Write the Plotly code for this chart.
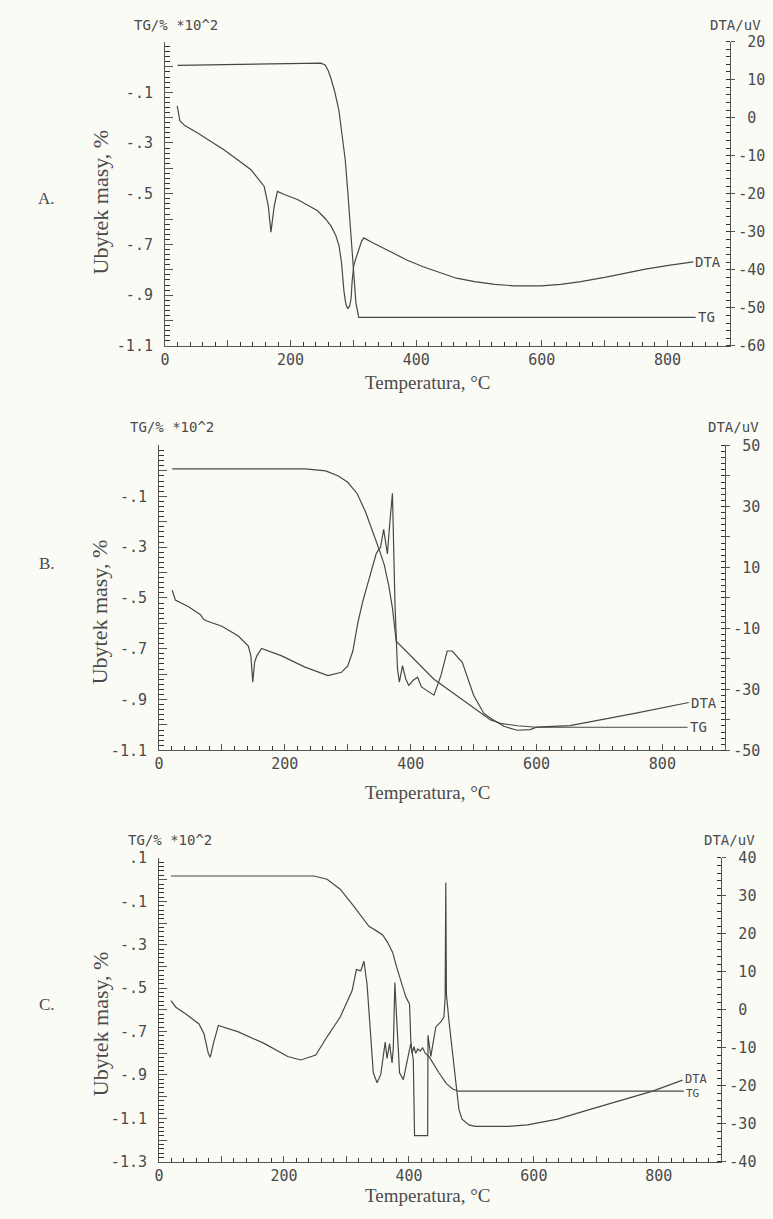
import plotly.graph_objects as go

W, H = 773, 1219

# ---------------- data: panel A ----------------
a_tg_t = [20, 100, 200, 248, 255, 260, 264, 270, 277, 282, 287, 291, 295, 298, 301, 304, 308.5, 400, 600, 845]
a_tg = [0.006, 0.010, 0.014, 0.015, 0.008, -0.015, -0.044, -0.095, -0.172, -0.26, -0.366, -0.49, -0.626,
        -0.74, -0.859, -0.93, -0.987, -0.987, -0.987, -0.987]
a_dta_t = [19.5, 23.7, 31.6, 52.7, 95, 137, 158, 164.5, 168.7, 174, 179, 190, 211, 243, 255, 264, 272, 277,
           281, 285, 288, 291, 294, 296.4, 298, 300.6, 303, 306, 310, 313, 316.5, 330, 358.5, 385, 411, 440,
           464, 493, 525, 556, 599, 630, 662, 700, 730, 765, 799, 841]
a_dta = [3.1, -0.8, -2.1, -4.1, -8.6, -13.7, -18.1, -23.2, -30.1, -23.2, -19.4, -20.2, -21.5, -24.5, -26.5,
         -28.4, -31, -33.6, -38, -45.7, -49, -50.2, -49.5, -47.4, -43, -38.8, -37.5, -36.2, -34, -32.5, -31.6,
         -32.8, -35.3, -37.4, -39.2, -40.9, -42.2, -43.1, -43.8, -44.2, -44.2, -43.8, -43.1, -42.0, -40.9,
         -39.8, -38.9, -37.9]

# ---------------- data: panel B ----------------
b_tg_t = [21, 120, 232, 265, 285, 300, 315, 328, 340, 350, 358, 365, 371, 377, 437, 469, 490, 505, 527, 545,
          570, 600, 840]
b_tg = [0.008, 0.008, 0.008, 0.0, -0.02, -0.045, -0.09, -0.16, -0.24, -0.31, -0.37, -0.45, -0.54, -0.67,
        -0.82, -0.876, -0.915, -0.94, -0.98, -0.995, -1.003, -1.009, -1.009]
b_dta_t = [21, 26, 47, 66, 70, 74, 100, 126, 142, 146, 149, 152, 155.5, 163, 195, 232, 268.6, 290, 300,
           308, 316, 324, 331.8, 338, 345, 348, 352, 357, 363, 367, 371, 375, 379, 382, 387, 392, 397, 404,
           411, 417, 437, 448, 458, 466, 476, 482, 500, 516, 529, 548, 569, 590, 600, 653, 758, 842]
b_dta = [2.5, -0.7, -2.9, -5.5, -6.8, -7.4, -9.3, -12.5, -15.8, -19, -27.6, -21, -19, -16.6, -19, -22.7,
         -25.5, -24.4, -22.3, -17.5, -8.2, -1.0, 4.7, 9.5, 14.4, 15.5, 16.5, 22.5, 14.4, 25.1, 34.3, -1.8,
         -23.3, -27.6, -22.2, -26.5, -28.7, -27.0, -26.0, -29.2, -31.9, -25.5, -17.4, -17.4, -19.5, -21.1,
         -31.9, -37.8, -39.7, -42.1, -43.4, -43.2, -42.4, -41.9, -37.8, -34.3]

# ---------------- data: panel C ----------------
c_tg_t = [19, 150, 248, 269, 290, 311, 327, 336, 348, 358, 366, 374, 380, 386, 395, 401, 403, 405, 408, 411,
          414, 418, 422, 426, 432, 448, 460, 470, 480, 840]
c_tg = [0.017, 0.017, 0.017, 0.002, -0.044, -0.12, -0.18, -0.215, -0.236, -0.255, -0.29, -0.335, -0.40,
        -0.46, -0.54, -0.574, -0.74, -0.80, -0.77, -0.80, -0.78, -0.79, -0.775, -0.80, -0.815, -0.89, -0.94,
        -0.965, -0.975, -0.975]
c_dta_t = [19, 27, 43, 56, 64, 72, 79, 82, 87, 95, 127, 169, 206, 227, 251, 269, 290, 309, 316, 323, 328,
           333, 338, 343, 349, 355, 362, 365, 369, 373, 375, 377.5, 380, 385, 391, 398, 403, 407, 409, 430,
           430.5, 435, 443, 451, 456, 458, 459, 460, 464, 474, 480, 485, 496, 506, 559, 590, 638, 690, 743,
           790, 838]
c_dta = [2.4, 0.7, -1.1, -2.8, -3.7, -6.3, -11.5, -12.5, -8.9, -4.1, -5.8, -8.9, -12.3, -13.2, -11.9, -7.1,
         -1.9, 5.0, 10.6, 10.3, 12.8, 6.7, -5.4, -16.6, -19.2, -17.0, -8.5, -12.8, -8.9, -14.0, -10, 7.2, -1.1,
         -16.6, -18.4, -12.3, -8.9, -13.2, -33.1, -33.1, -6.7, -12.3, -4.5, -3.2, -1.9, 3.3, 33.5, 4.1, -2.8,
         -17.5, -26.2, -28.8, -30.3, -30.7, -30.7, -30.3, -28.8, -26.2, -23.6, -21.4, -18.5]

# tick label texts (shown labels; unlabelled ticks get "")
x_labels = {"0": "0", "100": "", "200": "200", "300": "", "400": "400", "500": "", "600": "600",
            "700": "", "800": "800", "900": ""}
ab_tg_labels = {"0.1": "", "0.0": "", "-0.1": "-.1", "-0.2": "", "-0.3": "-.3", "-0.4": "", "-0.5": "-.5",
                "-0.6": "", "-0.7": "-.7", "-0.8": "", "-0.9": "-.9", "-1.0": "", "-1.1": "-1.1"}
c_tg_labels = dict(ab_tg_labels, **{"0.1": ".1", "-1.2": "", "-1.3": "-1.3"})


def dta_labels(lo, hi, step):
    out = {}
    for v in range(lo, hi + 1, step):
        out[str(v)] = str(v) if v < 0 else "\u00a0" + str(v)
    return out


a_dta_labels = dta_labels(-60, 20, 10)
b_dta_labels = dta_labels(-50, 50, 10)
c_dta_labels = dta_labels(-40, 40, 10)

# ---------------- styling ----------------
MONO = "DejaVu Sans Mono"
SERIF = "Liberation Serif"
INK = "#474747"
AX = "#555555"
TXT = "#4a4a4a"
BG = "#fbfbf6"


def px(x):
    return x / W


def py(y):
    return 1 - y / H


def alias(d):
    out = {}
    for k, v in d.items():
        out[k] = v
        if k.startswith("-"):
            out["\u2212" + k[1:]] = v
    return out


def xcfg(dom, anchor):
    return dict(domain=dom, anchor=anchor, range=[0, 900], showline=True, linecolor=AX, linewidth=1,
                ticks="inside", ticklen=6, tickcolor=AX, tickwidth=1, tickmode="linear", tick0=0, dtick=100,
                tickformat="d", labelalias=alias(x_labels),
                tickfont=dict(family=MONO, size=15, color=TXT),
                minor=dict(ticks="inside", ticklen=4, tickwidth=1, dtick=20, tickcolor="#333333"),
                showgrid=False, zeroline=False)


def ylcfg(dom, anchor, rng, labels):
    return dict(domain=dom, anchor=anchor, range=rng, showline=True, linecolor=AX, linewidth=1,
                ticks="inside", ticklen=8, tickcolor=AX, tickwidth=1, tickmode="linear", tick0=0, dtick=0.1,
                tickformat=".1f", labelalias=alias(labels),
                tickfont=dict(family=MONO, size=15, color=TXT), ticklabelstandoff=8,
                minor=dict(ticks="inside", ticklen=5, tickwidth=1, dtick=0.02, tickcolor="#333333"),
                showgrid=False, zeroline=False)


def yrcfg(dom, anchor, over, rng, labels):
    return dict(domain=dom, anchor=anchor, overlaying=over, side="right", range=rng, showline=True,
                linecolor=AX, linewidth=1, ticks="outside", ticklen=4, tickcolor=AX, tickwidth=1,
                tickmode="linear", tick0=0, dtick=10, tickformat="d", labelalias=alias(labels),
                tickfont=dict(family=MONO, size=15, color=TXT),
                minor=dict(ticks="inside", ticklen=4, tickwidth=1, dtick=2, tickcolor="#333333"),
                showgrid=False, zeroline=False)


fig = go.Figure()
line = dict(color=INK, width=1.2)

fig.add_trace(go.Scatter(x=a_tg_t, y=a_tg, mode="lines", line=line, xaxis="x", yaxis="y"))
fig.add_trace(go.Scatter(x=a_dta_t, y=a_dta, mode="lines", line=line, xaxis="x", yaxis="y2"))
fig.add_trace(go.Scatter(x=b_tg_t, y=b_tg, mode="lines", line=line, xaxis="x2", yaxis="y3"))
fig.add_trace(go.Scatter(x=b_dta_t, y=b_dta, mode="lines", line=line, xaxis="x2", yaxis="y4"))
fig.add_trace(go.Scatter(x=c_tg_t, y=c_tg, mode="lines", line=line, xaxis="x3", yaxis="y5"))
fig.add_trace(go.Scatter(x=c_dta_t, y=c_dta, mode="lines", line=line, xaxis="x3", yaxis="y6"))

A_X = [px(161), px(730)]
A_Y = [py(342), py(33)]
B_X = [px(155), px(725)]
B_Y = [py(752.5), py(443)]
C_X = [px(155), px(721)]
C_Y = [py(1170), py(861.7)]

fig.update_layout(
    width=W, height=H, margin=dict(l=0, r=0, t=0, b=0),
    paper_bgcolor=BG, plot_bgcolor=BG, showlegend=False, hovermode=False,
    xaxis=xcfg(A_X, "y"),
    yaxis=ylcfg(A_Y, "x", [-1.1, 0.1], ab_tg_labels),
    yaxis2=yrcfg(A_Y, "x", "y", [-60, 20], a_dta_labels),
    xaxis2=xcfg(B_X, "y3"),
    yaxis3=ylcfg(B_Y, "x2", [-1.1, 0.1], ab_tg_labels),
    yaxis4=yrcfg(B_Y, "x2", "y3", [-50, 50], b_dta_labels),
    xaxis3=xcfg(C_X, "y5"),
    yaxis5=ylcfg(C_Y, "x3", [-1.3, 0.1], c_tg_labels),
    yaxis6=yrcfg(C_Y, "x3", "y5", [-40, 40], c_dta_labels),
)
# panel B labels only every 20 on the DTA axis
fig.layout.yaxis4.labelalias = alias({k: (v if int(k) % 20 else "") for k, v in b_dta_labels.items()})

ann = []


def text(x, y, s, font, size, angle=0, xanchor="center"):
    ann.append(dict(x=px(x), y=py(y), xref="paper", yref="paper", text=s, showarrow=False,
                    xanchor=xanchor, yanchor="middle", textangle=angle,
                    font=dict(family=font, size=size, color=TXT)))


# headers
for hx, dx, hy in [(172, 735, 16), (168, 733, 424), (166, 729, 843)]:
    text(hx, hy, "TG/% *10^2", MONO, 14)
    text(dx, hy, "DTA/uV", MONO, 14)

# axis titles and panel letters
for ty, uy, ly, letter in [(379, 196, 192, "A."), (795, 612, 563, "B."), (1204, 1030, 1010, "C.")]:
    text(426, ty, "Temperatura, °C", SERIF, 19)
    text(96, uy, "Ubytek masy, %", SERIF, 22, angle=-90)
    text(42, ly, letter, SERIF, 17)


# curve end labels
def endlab(xr, yr, x, y, s, size=14, yshift=0):
    ann.append(dict(x=x, y=y, xref=xr, yref=yr, text=s, showarrow=False, xanchor="left",
                    yanchor="middle", yshift=yshift, font=dict(family=MONO, size=size, color=TXT)))


endlab("x", "y2", a_dta_t[-1], a_dta[-1], "DTA")
endlab("x", "y", a_tg_t[-1], a_tg[-1], "TG")
endlab("x2", "y4", b_dta_t[-1], b_dta[-1], "DTA")
endlab("x2", "y3", b_tg_t[-1], b_tg[-1], "TG")
endlab("x3", "y6", c_dta_t[-1], c_dta[-1], "DTA", size=12, yshift=1)
endlab("x3", "y5", c_tg_t[-1], c_tg[-1], "TG", size=11, yshift=-2)

fig.update_layout(annotations=ann)

fig.write_html("out.html")
